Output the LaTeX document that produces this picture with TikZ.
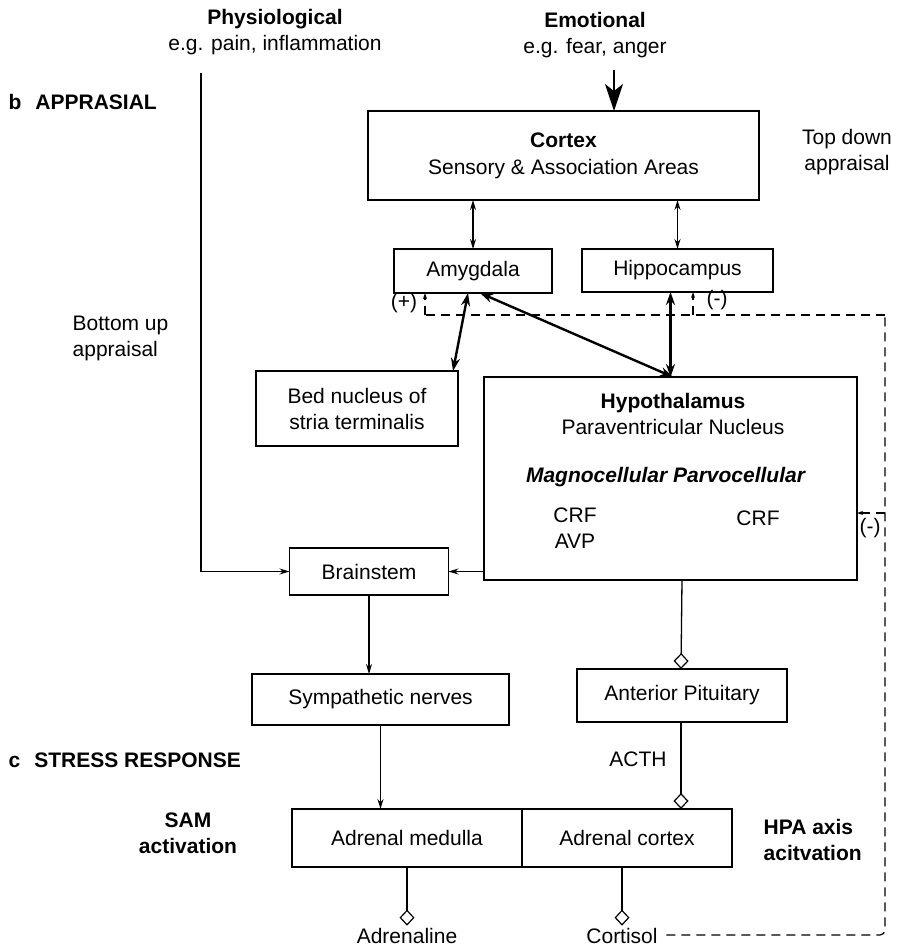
\documentclass[tikz,border=0pt]{standalone}
\usepackage{fontspec}
\setmainfont{Liberation Sans}
\usetikzlibrary{arrows.meta,positioning}

\begin{document}
\begin{tikzpicture}[x=1pt, y=-1pt, font=\fontsize{21}{26}\selectfont, line width=1.3pt,
  box/.style={draw, rectangle, inner sep=0pt, outer sep=0pt, align=center},
  txt/.style={inner sep=2pt, align=center},
  arr/.style={line width=1.3pt, -{Stealth[length=10pt,width=6pt]}},
  dbl/.style={line width=1.3pt, {Stealth[length=10pt,width=6pt]}-{Stealth[length=10pt,width=6pt]}},
  thickdbl/.style={line width=2.4pt, {Stealth[length=13pt,width=9pt]}-{Stealth[length=13pt,width=9pt]}},
  bigarr/.style={line width=1.3pt, -{Stealth[length=27pt,width=18pt,inset=7pt]}},
  dia/.style={line width=1.3pt, -{Diamond[open,length=16pt,width=15pt,line width=1.2pt]}},
  fb/.style={line width=1.2pt, dash pattern=on 9pt off 6pt},
  fbarr/.style={fb, -{Stealth[length=6pt,width=4pt]}}]

  \useasboundingbox (0,0) rectangle (902,952);

  % inputs
  \node[txt] (physio) at (275,32) {\textbf{Physiological}\\e.g. pain, inflammation};
  \node[txt] (emo) at (595,35) {\textbf{Emotional}\\e.g. fear, anger};
  \coordinate (physin) at (201,73);
  \coordinate (emoin) at (614,70);

  % appraisal
  \node[txt, anchor=west] (apptitle) at (6,102) {\textbf{b\hspace{14pt}APPRASIAL}};
  \node[txt, align=left, anchor=west] (bottomup) at (70,338) {Bottom up\\appraisal};
  \node[txt] (topdown) at (847,152) {Top down\\appraisal};

  \node[box, minimum width=391pt, minimum height=89pt] (cortex) at (563.5,155.5) {\textbf{Cortex}\\[1pt]Sensory \& Association Areas};
  \node[box, minimum width=158pt, minimum height=44pt] (amyg) at (473,271) {Amygdala};
  \node[box, minimum width=191pt, minimum height=43pt] (hippo) at (677.5,270.5) {Hippocampus};
  \node[box, minimum width=202pt, minimum height=75pt] (bnst) at (357,408.5) {Bed nucleus of\\stria terminalis};
  \node[box, minimum width=373pt, minimum height=203pt] (hypo) at (670.5,478.5) {};
  \node[txt] (hypotitle) at (673,414) {\textbf{Hypothalamus}\\Paraventricular Nucleus};
  \node[txt] (cells) at (666,477) {\textbf{\textit{Magnocellular Parvocellular}}};
  \node[txt] (magno) at (575,528) {CRF\\AVP};
  \node[txt] (parvo) at (758,518) {CRF};
  \node[box, minimum width=159pt, minimum height=47pt] (brain) at (369,571.5) {Brainstem};

  % stress response
  \node[txt, anchor=west] (restitle) at (6,760) {\textbf{c\hspace{14pt}STRESS RESPONSE}};
  \node[box, minimum width=257pt, minimum height=51pt] (symp) at (380.5,699.5) {Sympathetic nerves};
  \node[box, minimum width=210pt, minimum height=53pt] (pit) at (682,695.5) {Anterior Pituitary};
  \node[txt] (acth) at (638,759) {ACTH};
  \node[box, minimum width=230pt, minimum height=58pt] (med) at (407,838) {Adrenal medulla};
  \node[box, minimum width=210pt, minimum height=58pt, right=0pt of med] (adcx) {Adrenal cortex};
  \node[txt] (sam) at (188,833) {\textbf{SAM}\\\textbf{activation}};
  \node[txt, align=left, anchor=west] (hpa) at (761,840) {\textbf{HPA axis}\\\textbf{acitvation}};
  \node[txt] (adren) at (407,936) {Adrenaline};
  \node[txt] (cort) at (622,936) {Cortisol};

  \draw[bigarr] (emoin) -- (emoin |- cortex.north);
  \draw[arr] (physin) |- (brain.west);
  \draw[dbl] (amyg.north) -- (amyg.north |- cortex.south);
  \draw[dbl] (hippo.north) -- (hippo.north |- cortex.south);
  \draw[thickdbl] ([xshift=-5pt]amyg.south) -- ([xshift=-5pt]bnst.north east);
  \draw[thickdbl] ([xshift=7pt]amyg.south) -- ([xshift=2.5pt]hypo.north);
  \draw[thickdbl] (hypo.north |- hippo.south) -- (hypo.north);
  \draw[arr] (hypo.west |- brain) -- (brain.east);
  \draw[arr] (brain.south) -- (brain.south |- symp.north);
  \draw[arr] (symp.south) -- (symp.south |- med.north);
  \draw[dia] (pit.north |- hypo.south) -- ([xshift=-1pt]pit.north);
  \draw[dia] ([xshift=-1pt]pit.south) -- ([xshift=-1pt]pit.south |- adcx.north);
  \draw[dia] (med.south) -- (adren.north);
  \draw[dia] (cort.north |- adcx.south) -- (cort.north);

  % feedback
  \coordinate (fbb) at (885,935);
  \coordinate (fbr) at (885,315);
  \coordinate (fbl) at (425,315);
  \coordinate (fbh) at (693,315);
  \coordinate (fbm) at (885,513);
  \draw[fb, rounded corners=5pt] ([xshift=6pt]cort.east |- fbb) -- (fbb) -- (fbr);
  \draw[fb] (fbr) -- (fbl);
  \draw[fbarr] (fbl) -- (fbl |- amyg.south);
  \draw[fbarr] (fbh) -- (fbh |- hippo.south);
  \draw[fbarr] (fbm) -- (fbm -| hypo.east);
  \node[txt] (plus) at (404,303) {(+)};
  \node[txt] (minusa) at (717,300) {(-)};
  \node[txt] (minusb) at (870,528) {(-)};

\end{tikzpicture}
\end{document}
